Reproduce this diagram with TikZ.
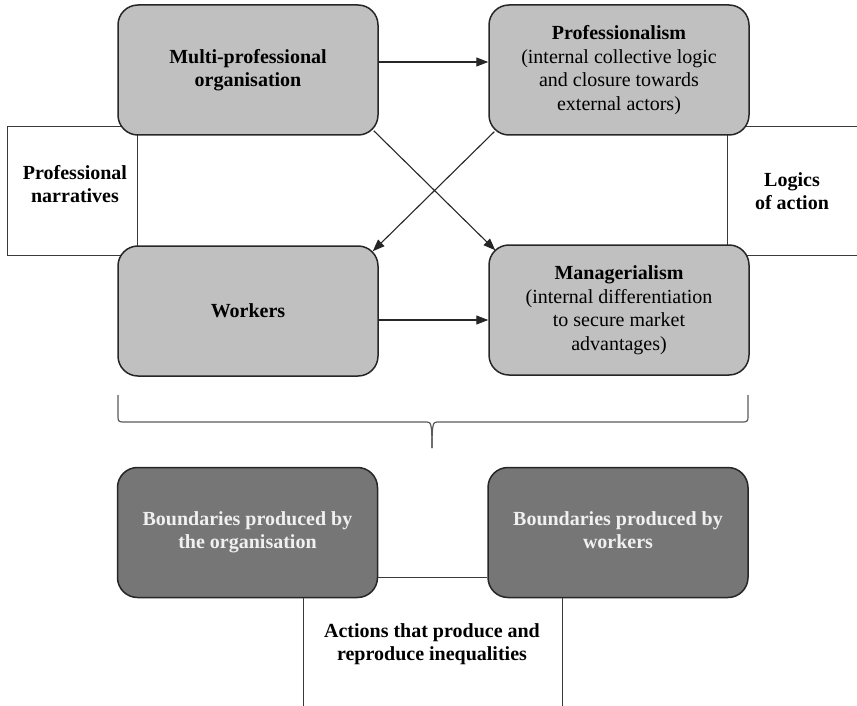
\documentclass[tikz,border=0pt]{standalone}
\usepackage{fontspec}
\setmainfont{Liberation Serif}
\usetikzlibrary{arrows.meta}
\definecolor{boxgray}{HTML}{C0C0C0}
\definecolor{darkbox}{HTML}{767676}
\definecolor{linegray}{HTML}{3A3A3A}
\definecolor{bracegray}{HTML}{5A5A5A}
\begin{document}
\begin{tikzpicture}[x=1pt,y=-1pt,
  gbox/.style={draw=black!85, line width=1.5pt, fill=boxgray, rounded corners=20pt,
    minimum width=260pt, minimum height=130pt, align=center, inner sep=0pt,
    font=\fontsize{20}{23.5}\selectfont},
  dbox/.style={gbox, fill=darkbox, text=white!94!black,
    font=\fontsize{20}{23.5}\selectfont\bfseries},
  sidebox/.style={draw=linegray, line width=1pt, fill=white,
    minimum width=130pt, minimum height=128pt, inner sep=0pt},
  lbl/.style={align=center, font=\fontsize{20}{23.5}\selectfont\bfseries, inner sep=0pt},
  conn/.style={draw=black!85, line width=1.1pt, -{Triangle[length=12pt,width=9pt]}},
  plain/.style={draw=linegray, line width=1pt},
  brace/.style={draw=bracegray, line width=1.2pt}
]
\useasboundingbox (0,0) rectangle (857,706);
% side boxes (behind)
\node[sidebox] (pn) at (72,191) {};
\node[sidebox] (la) at (792,191) {};
\node[lbl] (pnt) at (75,184) {Professional\\narratives};
\node[lbl] (lat) at (792,191) {Logics\\of action};
% main boxes
\node[gbox] (mp) at (248,70) {\textbf{Multi-professional}\\\textbf{organisation}};
\node[gbox] (pr) at (619,70) {\textbf{Professionalism}\\(internal collective logic\\and closure towards\\external actors)};
\node[gbox] (wk) at (248,311) {\textbf{Workers}};
\node[gbox] (mg) at (619,310) {\textbf{Managerialism}\\(internal differentiation\\to secure market\\advantages)};
% connectors
\draw[conn] ([yshift=8pt]mp.east) -- ([yshift=8pt]mp.east -| pr.west);
\draw[conn] ([yshift=-9pt]wk.east) -- ([yshift=-9pt]wk.east -| mg.west);
\draw[conn] ([shift={(-5,-5)}]mp.south east) -- ([shift={(7,6)}]mg.north west);
\draw[conn] ([shift={(6,-4)}]pr.south west) -- ([shift={(-6,6)}]wk.north east);
% brace
\draw[brace] (118,395) -- (118,417) .. controls (118,421) and (119,422) .. (123,422) -- (427,422)
  .. controls (431,422) and (432,424) .. (432,448);
\draw[brace] (748,395) -- (748,417) .. controls (748,421) and (747,422) .. (743,422) -- (437,422)
  .. controls (433,422) and (432,424) .. (432,448);
% bottom boxes
\node[dbox] (bl) at (247.5,532.5) {Boundaries produced by\\the organisation};
\node[dbox] (br) at (618,532.5) {Boundaries produced by\\workers\vphantom{g}};
\draw[plain] ([yshift=-45pt]bl.east) -- ([yshift=-45pt]bl.east -| br.west);
\coordinate (v1) at (303,706);
\coordinate (v2) at (562,706);
\draw[plain] (v1 |- bl.south) -- (v1);
\draw[plain] (v2 |- br.south) -- (v2);
\node[lbl] (act) at (432,644) {Actions that produce and\\reproduce inequalities};
\end{tikzpicture}
\end{document}
